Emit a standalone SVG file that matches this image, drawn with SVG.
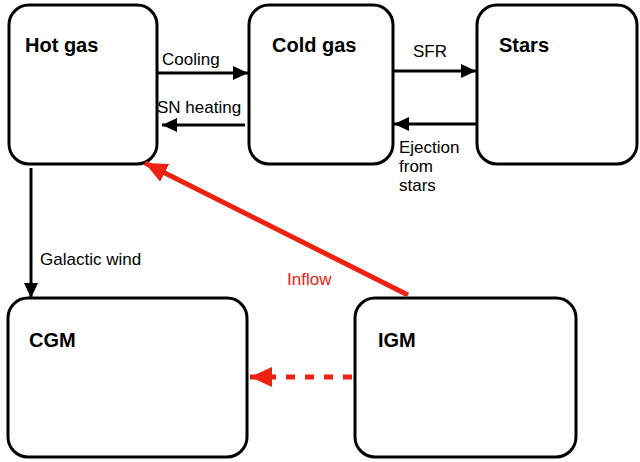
<svg xmlns="http://www.w3.org/2000/svg" width="640" height="462" viewBox="0 0 640 462">
<style>
.box{fill:#fff;stroke:#000;stroke-width:3}
.title{font-family:"Liberation Sans",Arial,sans-serif;font-weight:bold;font-size:20px;fill:#000}
.lbl{font-family:"Liberation Sans",Arial,sans-serif;font-size:17px;fill:#000}
.red{fill:#ee2211}
.k{stroke:#000;stroke-width:3;fill:none}
.r{stroke:#ee2211;stroke-width:5;fill:none}
</style>
<defs>
<marker id="ak" markerUnits="userSpaceOnUse" viewBox="0 0 15 14" refX="15" refY="7" markerWidth="15" markerHeight="14" orient="auto"><path d="M0,0 L15,7 L0,14 Z" fill="#000"/></marker>
<marker id="ar" markerUnits="userSpaceOnUse" viewBox="0 0 22 20" refX="22" refY="10" markerWidth="22" markerHeight="20" orient="auto"><path d="M0,0 L22,10 L0,20 Z" fill="#ee2211"/></marker>
</defs>
<g id="hot-gas"><rect class="box" x="9" y="5" width="148" height="159" rx="20"/><text class="title" x="25" y="52">Hot gas</text></g>
<g id="cold-gas"><rect class="box" x="249" y="5" width="144" height="159" rx="20"/><text class="title" x="272" y="52">Cold gas</text></g>
<g id="stars"><rect class="box" x="477" y="5" width="160" height="159" rx="20"/><text class="title" x="499" y="52">Stars</text></g>
<g id="cgm"><rect class="box" x="8" y="298" width="239" height="159" rx="20"/><text class="title" x="29" y="347">CGM</text></g>
<g id="igm"><rect class="box" x="355" y="298" width="221" height="159" rx="20"/><text class="title" x="378" y="347">IGM</text></g>
<g id="connectors">
<line class="k" x1="158" y1="73" x2="248" y2="73" marker-end="url(#ak)"/>
<text class="lbl" x="162" y="65">Cooling</text>
<line class="k" x1="245" y1="125" x2="162" y2="125" marker-end="url(#ak)"/>
<text class="lbl" x="157" y="113">SN heating</text>
<line class="k" x1="394" y1="71" x2="476" y2="71" marker-end="url(#ak)"/>
<text class="lbl" x="413" y="57">SFR</text>
<line class="k" x1="476" y1="124" x2="394" y2="124" marker-end="url(#ak)"/>
<text class="lbl" x="399" y="153">Ejection</text>
<text class="lbl" x="399" y="172">from</text>
<text class="lbl" x="399" y="191">stars</text>
<line class="k" x1="31" y1="168" x2="31" y2="298" marker-end="url(#ak)"/>
<text class="lbl" x="40" y="265">Galactic wind</text>
<line class="r" x1="408" y1="295" x2="145" y2="163" marker-end="url(#ar)"/>
<text class="lbl red" x="287" y="285">Inflow</text>
<line class="r" x1="352" y1="377" x2="250" y2="377" stroke-dasharray="9 10" marker-end="url(#ar)"/>
</g>
</svg>
